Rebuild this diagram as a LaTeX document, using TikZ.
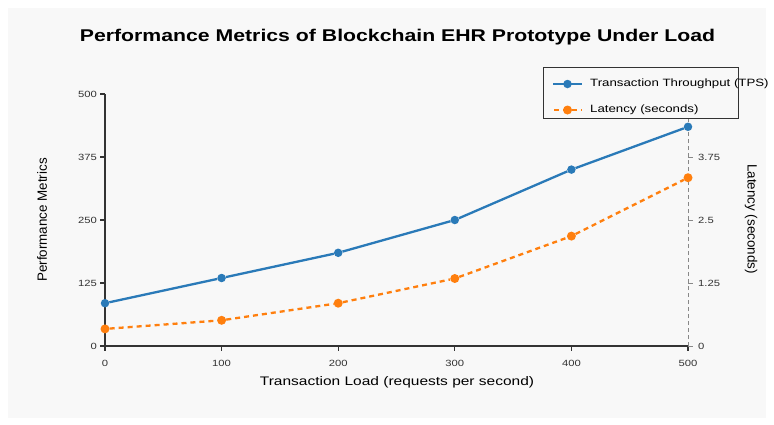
\documentclass[tikz,border=0pt]{standalone}
\usepackage{fontspec}
\setmainfont{Liberation Sans}[FakeStretch=1.25]
\newfontfamily\uprightfont{Liberation Sans}
\definecolor{panelbg}{HTML}{F8F8F8}
\definecolor{tpsblue}{HTML}{2A7AB8}
\definecolor{latorange}{HTML}{FF7F0E}
\definecolor{axisdark}{HTML}{333333}
\definecolor{axisgray}{HTML}{888888}
\tikzset{
  tpsline/.style={draw=tpsblue, line width=2.3pt},
  latline/.style={draw=latorange, line width=2.3pt, dash pattern=on 5pt off 4pt},
  tpsdot/.style={circle, fill=tpsblue, inner sep=0pt, minimum size=8.5pt},
  latdot/.style={circle, fill=latorange, inner sep=0pt, minimum size=9pt},
  axisline/.style={draw=axisdark, line width=1.4pt},
  raxis/.style={draw=axisgray, line width=1pt, dash pattern=on 4pt off 3pt},
  ticklab/.style={font=\fontsize{9}{10}\selectfont, text=axisdark, inner sep=1pt},
  legtext/.style={font=\fontsize{10.6}{12}\selectfont, text=black, anchor=west, inner sep=0pt},
  sidelab/.style={font=\uprightfont\fontsize{13.4}{15}\selectfont, text=black},
}
\begin{document}
\begin{tikzpicture}[x=1pt, y=-1pt]
\useasboundingbox (0,0) rectangle (774,424);
\fill[white] (0,0) rectangle (774,424);
\fill[panelbg] (8,8) rectangle (766,418);

% title
\node[font=\bfseries\fontsize{17}{20}\selectfont] (title) at (397.5,37) {Performance Metrics of Blockchain EHR Prototype Under Load};

% axes
\coordinate (orig) at (105,346);
\coordinate (ytop) at (105,94);
\coordinate (xend) at (688,346);
\coordinate (rtop) at (688,94);
\draw[raxis] (xend) -- (rtop);
\draw[axisline] (ytop) -- (orig) -- (xend);

% left ticks
\foreach \v/\lab in {0/0,125/125,250/250,375/375,500/500}{
  \draw[axisdark, line width=1.2pt] (100,346-0.504*\v) -- (105,346-0.504*\v);
  \node[ticklab, anchor=east] (yl\v) at (98,346-0.504*\v) {\lab};
}
% bottom ticks
\foreach \v in {0,100,200,300,400,500}{
  \draw[axisdark, line width=1.2pt] (105+1.166*\v,346) -- (105+1.166*\v,351);
  \node[ticklab] (xl\v) at (105+1.166*\v,363.5) {\v};
}
% right ticks
\foreach \v/\lab in {0/0,125/1.25,250/2.5,375/3.75}{
  \draw[axisgray, line width=1pt] (688,346-0.504*\v) -- (693,346-0.504*\v);
  \node[ticklab, anchor=west] (rl\v) at (697,346-0.504*\v) {\lab};
}

% axis labels
\node[font=\fontsize{12.4}{14}\selectfont, text=black] (xlabel) at (397,382) {Transaction Load (requests per second)};
\node[sidelab, rotate=90] (ylabel) at (42,220) {Performance Metrics};
\node[sidelab, rotate=-90] (rlabel) at (751,219) {Latency (seconds)};

% throughput series
\node[tpsdot] (b0) at (105,303.2) {};
\node[tpsdot] (b1) at (221.6,278.0) {};
\node[tpsdot] (b2) at (338.2,252.8) {};
\node[tpsdot] (b3) at (454.8,220.0) {};
\node[tpsdot] (b4) at (571.4,169.6) {};
\node[tpsdot] (b5) at (688,126.8) {};
\draw[tpsline] (b0) -- (b1) -- (b2) -- (b3) -- (b4) -- (b5);

% latency series
\node[latdot] (o0) at (105,328.9) {};
\node[latdot] (o1) at (221.6,320.3) {};
\node[latdot] (o2) at (338.2,303.2) {};
\node[latdot] (o3) at (454.8,278.5) {};
\node[latdot] (o4) at (571.4,236.1) {};
\node[latdot] (o5) at (688,177.7) {};
\draw[latline] (o0) -- (o1) -- (o2) -- (o3) -- (o4) -- (o5);

% legend
\node[draw=axisdark, line width=0.8pt, fill=panelbg, minimum width=195pt, minimum height=50.5pt, inner sep=0pt] (legend) at (640.5,92.75) {};
\coordinate (la1) at (553,84);
\coordinate (lb1) at (582,84);
\coordinate (la2) at (553,110);
\coordinate (lb2) at (582,110);
\draw[tpsline] (la1) -- (lb1);
\node[tpsdot] (lm1) at (567.5,84) {};
\draw[latline, dash phase=-1pt] (la2) -- (lb2);
\node[latdot] (lm2) at (567.5,110) {};
\node[legtext] (lt1) at (590,84) {Transaction Throughput (TPS)};
\node[legtext] (lt2) at (590,110) {Latency (seconds)};
\end{tikzpicture}
\end{document}
